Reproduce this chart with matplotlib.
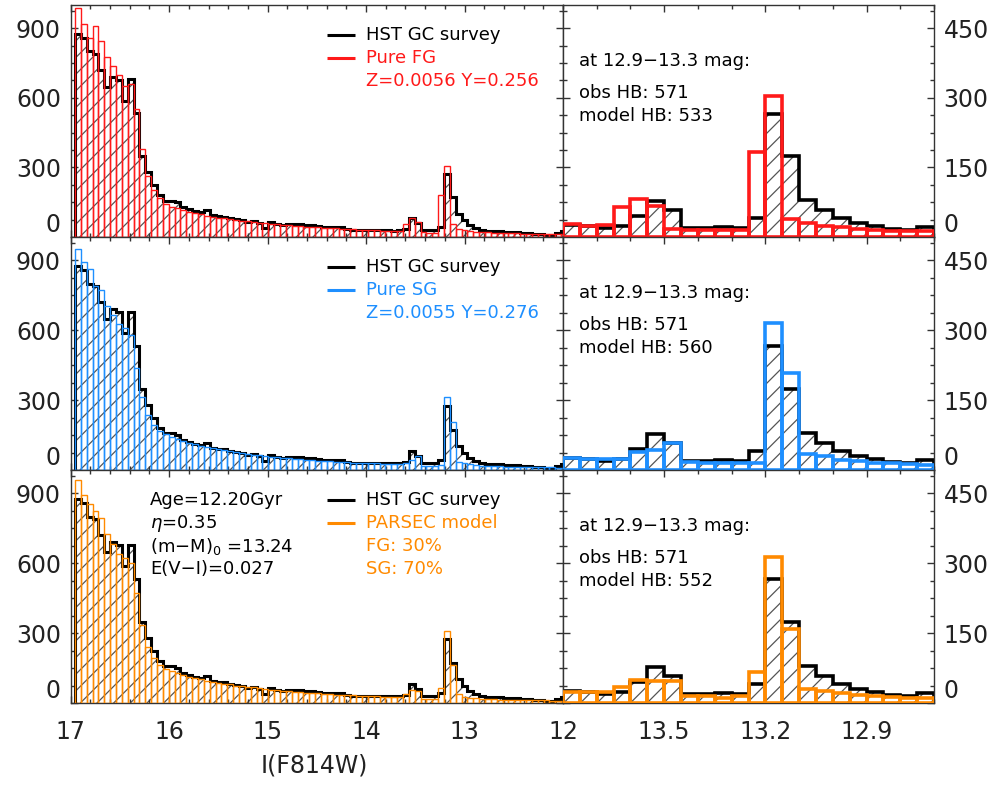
import numpy as np
import matplotlib.pyplot as plt
from matplotlib.ticker import MultipleLocator, FixedLocator

plt.rcParams['font.family'] = 'DejaVu Sans'
plt.rcParams['hatch.linewidth'] = 0.9

# luminosity function bins, I(F814W) in mag (first edge, bin width)
lf_start = 16.957
lf_width = 0.0595
# horizontal branch zoom bins
hb_start = 13.80
hb_width = 0.05

# HST GC survey counts
obs_lf = [877, 857, 800, 790, 721, 647, 690, 676, 587, 680,
          533, 347, 279, 224, 179, 157, 157, 150, 129, 120,
          112, 108, 116, 95, 90, 88, 82, 78, 74, 66,
          68, 60, 38, 66, 55, 52, 56, 54, 55, 52,
          50, 46, 45, 44, 42, 42, 36, 32, 30, 30,
          30, 29, 30, 30, 28, 30, 36, 80, 62, 30,
          30, 32, 44, 273, 173, 101, 73, 52, 38, 30,
          27, 26, 24, 22, 20, 20, 18, 16, 14, 12,
          6, 10, 16, 24]
# pure first generation model
fg_lf = [987, 919, 856, 909, 844, 776, 737, 699, 650, 660,
         551, 380, 261, 204, 166, 141, 130, 123, 115, 108,
         102, 97, 92, 88, 84, 80, 77, 73, 70, 67,
         64, 62, 59, 57, 55, 52, 50, 48, 46, 45,
         43, 42, 40, 39, 37, 36, 35, 33, 32, 31,
         30, 29, 28, 27, 26, 28, 55, 82, 64, 20,
         18, 18, 183, 306, 55, 36, 30, 26, 23, 21,
         20, 19, 18, 17, 16, 16, 15, 15, 14, 14,
         13, 13, 12, 12]
# pure second generation model
sg_lf = [947, 891, 861, 790, 771, 704, 664, 625, 610, 578,
         436, 314, 236, 193, 167, 153, 143, 133, 124, 116,
         110, 104, 98, 93, 88, 84, 80, 76, 72, 69,
         66, 63, 60, 57, 55, 52, 50, 48, 46, 44,
         42, 40, 39, 37, 36, 34, 33, 32, 31, 30,
         29, 28, 27, 26, 25, 25, 30, 42, 62, 18,
         17, 16, 20, 314, 204, 34, 28, 24, 21, 19,
         18, 17, 16, 15, 14, 14, 13, 13, 12, 12,
         11, 11, 10, 10]
# PARSEC mixture, FG 30% + SG 70%
mix_lf = [956, 894, 856, 823, 794, 727, 684, 641, 624, 601,
          470, 334, 241, 191, 163, 146, 136, 130, 122, 113,
          107, 102, 96, 92, 87, 83, 80, 75, 72, 69,
          67, 63, 60, 57, 55, 52, 50, 49, 46, 44,
          42, 41, 39, 38, 36, 35, 34, 33, 32, 30,
          29, 28, 27, 26, 25, 26, 40, 54, 50, 19,
          17, 17, 63, 310, 165, 38, 26, 22, 20, 18,
          17, 16, 15, 15, 14, 13, 13, 12, 12, 11,
          11, 10, 10, 10]

obs_hb = [26, 24, 19, 24, 45, 77, 58, 20, 19, 22, 19,
          40, 266, 174, 79, 59, 40, 31, 24, 18, 15, 21]
fg_hb = [27, 24, 26, 64, 81, 67, 18, 16, 15, 16, 15,
         184, 304, 39, 31, 24, 21, 17, 15, 14, 14, 13]
sg_hb = [25, 23, 23, 23, 39, 43, 59, 18, 16, 14, 14,
         14, 316, 209, 34, 29, 21, 19, 16, 14, 12, 11]
mix_hb = [24, 23, 24, 35, 49, 48, 47, 14, 14, 11, 14,
          66, 314, 158, 31, 26, 22, 17, 15, 12, 11, 11]

RED = '#ff1a1a'
BLUE = '#1e8fff'
ORANGE = '#ff8a00'
AXC = '#333333'

models = [
    (fg_lf, fg_hb, RED, ['Pure FG', 'Z=0.0056 Y=0.256'], 533),
    (sg_lf, sg_hb, BLUE, ['Pure SG', 'Z=0.0055 Y=0.276'], 560),
    (mix_lf, mix_hb, ORANGE, ['PARSEC model', 'FG: 30%', 'SG: 70%'], 552),
]


def draw_hist(ax, start, width, obs, model, color, lw_obs, lw_model):
    edges = start - width * np.arange(len(obs) + 1)
    edges = edges[::-1]
    obs = np.asarray(obs)[::-1]
    model = np.asarray(model)[::-1]
    ax.bar(edges[:-1], obs, width=np.diff(edges), align='edge',
           facecolor='none', edgecolor='#555555', linewidth=0, hatch='//', zorder=1)
    ax.stairs(obs, edges, color='black', linewidth=lw_obs, zorder=2)
    ax.bar(edges[:-1], model, width=np.diff(edges), align='edge',
           fill=False, edgecolor=color, linewidth=lw_model, zorder=3)


def style_axes(ax):
    for sp in ax.spines.values():
        sp.set_color(AXC)
        sp.set_linewidth(1.0)
    ax.tick_params(which='both', direction='in', top=True, bottom=True,
                   left=True, right=True, color=AXC, labelsize=17,
                   labelcolor='#222222')
    ax.tick_params(which='major', length=5, width=1)
    ax.tick_params(which='minor', length=3, width=1)
    ax.tick_params(axis='x', pad=12)
    ax.tick_params(axis='y', pad=7)


fig = plt.figure(figsize=(10, 7.87), dpi=100)
H = 787.0
rows = [(5, 237), (237, 470), (470, 703)]
FS = 13

for i, (top, bot) in enumerate(rows):
    lf, hb, color, labels, model_hb = models[i]
    bottom = 1 - bot / H
    height = (bot - top) / H
    axl = fig.add_axes([0.0707, bottom, 0.4923, height])
    axr = fig.add_axes([0.563, bottom, 0.371, height])

    # full luminosity function
    draw_hist(axl, lf_start, lf_width, obs_lf, lf, color, 2.2, 1.0)
    axl.set_xlim(17, 12)
    axl.set_ylim(0, 1000)
    axl.xaxis.set_major_locator(MultipleLocator(1))
    axl.xaxis.set_minor_locator(MultipleLocator(0.2))
    axl.yaxis.set_major_locator(FixedLocator([0, 300, 600, 900]))
    axl.yaxis.set_minor_locator(MultipleLocator(75))
    style_axes(axl)

    # zoom on the horizontal branch
    draw_hist(axr, hb_start, hb_width, obs_hb, hb, color, 2.6, 2.6)
    axr.set_xlim(13.8, 12.7)
    axr.set_ylim(0, 500)
    axr.xaxis.set_major_locator(FixedLocator([13.5, 13.2, 12.9]))
    axr.xaxis.set_minor_locator(MultipleLocator(0.1))
    axr.yaxis.set_major_locator(FixedLocator([0, 150, 300, 450]))
    axr.yaxis.set_minor_locator(MultipleLocator(37.5))
    style_axes(axr)
    axr.tick_params(axis='y', labelleft=False, labelright=True)

    if i < 2:
        axl.tick_params(axis='x', labelbottom=False)
        axr.tick_params(axis='x', labelbottom=False)
    else:
        axl.set_xticks([17, 16, 15, 14, 13, 12])
        axl.set_xticklabels(['17', '16', '15', '14', '13', '12'])
        axr.set_xticks([13.5, 13.2, 12.9])
        axr.set_xticklabels(['13.5', '13.2', '12.9'])

    for ax in (axl, axr):
        t0 = ax.yaxis.get_major_ticks()[0]
        t0.label1.set_verticalalignment('bottom')
        t0.label2.set_verticalalignment('bottom')

    # legend
    ys = [1 - off / 232.5 for off in (30, 53, 76, 99)]
    axl.plot([0.5206, 0.5775], [ys[0], ys[0]], transform=axl.transAxes,
             color='black', lw=2.2, solid_capstyle='butt')
    axl.text(0.5998, ys[0], 'HST GC survey', transform=axl.transAxes,
             va='center', fontsize=FS, color='black')
    axl.plot([0.5206, 0.5775], [ys[1], ys[1]], transform=axl.transAxes,
             color=color, lw=2.2, solid_capstyle='butt')
    for j, lab in enumerate(labels):
        axl.text(0.5998, ys[j + 1], lab, transform=axl.transAxes,
                 va='center', fontsize=FS, color=color)

    if i == 2:
        params = ['Age=12.20Gyr', r'$\eta$=0.35',
                  '(m\u2212M)$_0$ =13.24', 'E(V\u2212I)=0.027']
        for j, lab in enumerate(params):
            axl.text(0.161, ys[j], lab, transform=axl.transAxes,
                     va='center', fontsize=FS, color='black')

    # horizontal branch counts
    axr.text(0.043, 1 - 56 / 232.5, 'at 12.9\u221213.3 mag:',
             transform=axr.transAxes, va='center', fontsize=FS)
    axr.text(0.043, 1 - 88 / 232.5, 'obs HB: 571',
             transform=axr.transAxes, va='center', fontsize=FS)
    axr.text(0.043, 1 - 111 / 232.5, f'model HB: {model_hb}',
             transform=axr.transAxes, va='center', fontsize=FS)

fig.text(0.314, 1 - 766 / H, 'I(F814W)', ha='center', va='center',
         fontsize=17, color='#222222')

fig.savefig('out.png', dpi=100)
